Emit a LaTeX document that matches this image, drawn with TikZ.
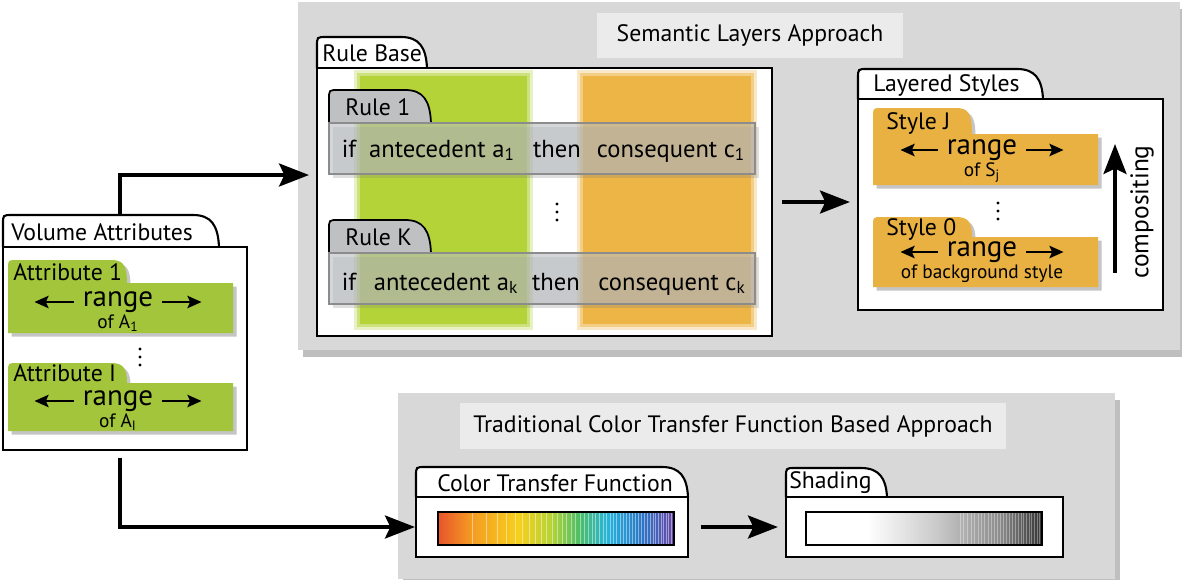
\documentclass[tikz,border=0pt]{standalone}
\usepackage{fontspec}
\setmainfont{PT Sans}
\usetikzlibrary{arrows.meta,shadows,fit,positioning}

\definecolor{panelgray}{HTML}{D8D8D8}
\definecolor{titlegray}{HTML}{EBEBEB}
\definecolor{colgreen}{HTML}{B3D339}
\definecolor{colorange}{HTML}{EDB546}
\definecolor{attrgreen}{HTML}{A2C53C}
\definecolor{styleorange}{HTML}{E9B042}
\definecolor{tabgray}{HTML}{BEC0C2}
\definecolor{rowgray}{HTML}{B8BCC0}
\definecolor{rbred}{HTML}{E8542C}
\definecolor{rborange}{HTML}{F49B22}
\definecolor{rbyellow}{HTML}{F7D01C}
\definecolor{rblime}{HTML}{B5D336}
\definecolor{rbgreen}{HTML}{4DBE6A}
\definecolor{rbcyan}{HTML}{27B4DC}
\definecolor{rbblue}{HTML}{2B78C6}
\definecolor{rbviolet}{HTML}{6A45A6}

\pgfdeclarehorizontalshading{rainbow}{100bp}{color(0bp)=(rbred); color(25bp)=(rbred);
  color(32bp)=(rborange); color(42bp)=(rbyellow); color(49bp)=(rblime); color(55bp)=(rbgreen);
  color(61bp)=(rbcyan); color(68bp)=(rbblue); color(75bp)=(rbviolet); color(100bp)=(rbviolet)}
\pgfdeclarehorizontalshading{grayramp}{100bp}{color(0bp)=(white); color(25bp)=(white);
  color(38bp)=(white); color(52bp)=(black!20); color(66bp)=(black!45); color(75bp)=(black!80);
  color(100bp)=(black!80)}

% folder tab: style, left x, top y, right x, base y
\newcommand\foldertab[5][]{%
  \draw[line width=1.2pt,#1] (#2,#5) -- (#2,#3+9) .. controls (#2,#3) .. (#2+9,#3)
    -- (#4-26,#3) .. controls (#4-8,#3) and (#4-1,#3+10) .. (#4,#5);}
% coloured bar with tab: colour, left x, tab top, tab right, bar top, bar right, bar bottom
\newcommand\tabbar[7]{%
  \fill[#1,drop shadow={opacity=.45,shadow xshift=2pt,shadow yshift=-2pt}]
    (#2,#7) -- (#2,#3+9) .. controls (#2,#3) .. (#2+9,#3) -- (#4-16,#3)
    .. controls (#4-4,#3) and (#4,#3+5) .. (#4,#5) -- (#6,#5) -- (#6,#7) -- cycle;}
% three vertical dots: x, top y
\newcommand\vdotsat[2]{\foreach \k in {0,1,2} \fill (#1,#2+8*\k) circle (1.7);}

\begin{document}
\begin{tikzpicture}[x=0.02cm,y=-0.02cm,
  every node/.style={inner sep=0pt},
  txt/.style={font=\fontsize{13.5}{15}\selectfont},
  rowtxt/.style={font=\fontsize{14}{16}\selectfont},
  rangetxt/.style={font=\fontsize{16.5}{18}\selectfont},
  oftxt/.style={font=\fontsize{11}{12}\selectfont},
  panel/.style={fill=panelgray,drop shadow={opacity=.5,shadow xshift=3pt,shadow yshift=-4pt}},
  titlebox/.style={fill=titlegray},
  framebox/.style={draw,line width=1.2pt,fill=white},
  rowbar/.style={fill=rowgray,fill opacity=.6,draw=black!45,line width=.8pt},
  flow/.style={line width=2.3pt,-{Stealth[length=17pt,width=13pt,inset=3pt]}},
  rangearrow/.style={line width=1.4pt,-{Stealth[length=8pt,width=7pt,inset=1.5pt]}}]
\useasboundingbox (0,0) rectangle (1182,579);

\node[panel,fit={(298,2) (1180,350)}] (sempanel) {};
\node[panel,fit={(398,393) (1115,579)}] (tradpanel) {};
\node[titlebox,fit={(597,13) (903,58)}] (semtitlebox) {};
\node[txt] (semtitle) at (semtitlebox) {Semantic Layers Approach};
\node[titlebox,fit={(460,403) (1006,449)}] (tradtitlebox) {};
\node[txt] (tradtitle) at (tradtitlebox) {Traditional Color Transfer Function Based Approach};

% volume attributes
\foldertab[fill=white]{3}{215}{219}{247}
\node[framebox,fit={(3,247) (247,450)}] (volattr) {};
\node[txt,anchor=west] (voltab) at (11,232) {Volume Attributes};
\tabbar{attrgreen}{8}{260}{127}{283}{233}{333}
\node[txt,anchor=west] (att1) at (13,272) {Attribute 1};
\node[rangetxt] (range1) at (118,302) {range};
\node[oftxt,below=1pt of range1] (of1) {of A\textsubscript{1}};
\draw[rangearrow,shorten <=5pt] (range1.west) -- ++(-48,0);
\draw[rangearrow,shorten <=5pt] (range1.east) -- ++(48,0);
\vdotsat{140}{349}
\tabbar{attrgreen}{8}{363}{127}{383}{233}{431}
\node[txt,anchor=west] (attI) at (13,373) {Attribute I};
\node[rangetxt] (rangeI) at (118,401) {range};
\node[oftxt,below=1pt of rangeI] (ofI) {of A\textsubscript{I}};
\draw[rangearrow,shorten <=5pt] (rangeI.west) -- ++(-48,0);
\draw[rangearrow,shorten <=5pt] (rangeI.east) -- ++(48,0);

% rule base
\foldertab[fill=white]{317}{37}{427}{68}
\node[framebox,fit={(317,68) (772,336)}] (rulebase) {};
\node[txt,anchor=west] (rbtab) at (322,53) {Rule Base};
\fill[colgreen,opacity=.3] (354,70) rectangle (533,330);
\fill[colgreen,opacity=.5] (357,73) rectangle (530,327);
\fill[colgreen] (360,76) rectangle (527,324);
\fill[colorange,opacity=.3] (577,70) rectangle (757,330);
\fill[colorange,opacity=.5] (580,73) rectangle (754,327);
\fill[colorange] (583,76) rectangle (751,324);
\foldertab[fill=tabgray,line width=1pt]{329}{90}{431}{123}
\node[rowbar,fit={(329,123) (755,174)},drop shadow={opacity=.25,shadow xshift=2pt,shadow yshift=-2pt}] (row1) {};
\node[txt,anchor=west] (rule1) at (345,107) {Rule 1};
\node[rowtxt,anchor=base] (if1) at (349,157) {if};
\node[rowtxt,anchor=base] (ante1) at (442,157) {antecedent a\textsubscript{1}};
\node[rowtxt,anchor=base] (then1) at (557,157) {then};
\node[rowtxt,anchor=base] (cons1) at (671,157) {consequent c\textsubscript{1}};
\vdotsat{557}{204}
\foldertab[fill=tabgray,line width=1pt]{329}{220}{431}{253}
\node[rowbar,fit={(329,253) (755,304)},drop shadow={opacity=.25,shadow xshift=2pt,shadow yshift=-2pt}] (rowK) {};
\node[txt,anchor=west] (ruleK) at (345,237) {Rule K};
\node[rowtxt,anchor=base] (ifK) at (349,290) {if};
\node[rowtxt,anchor=base] (anteK) at (446,290) {antecedent a\textsubscript{k}};
\node[rowtxt,anchor=base] (thenK) at (556,290) {then};
\node[rowtxt,anchor=base] (consK) at (672,290) {consequent c\textsubscript{k}};

% layered styles
\foldertab[fill=white]{858}{69}{1043}{99}
\node[framebox,fit={(858,99) (1163,310)}] (layered) {};
\node[txt,anchor=west] (lstab) at (873,85) {Layered Styles};
\tabbar{styleorange}{873}{108}{972}{134}{1098}{185}
\node[txt,anchor=west] (stylej) at (886,123) {Style J};
\node[rangetxt] (rangej) at (982,150) {range};
\node[oftxt,below=1pt of rangej] (ofj) {of S\textsubscript{j}};
\draw[rangearrow,shorten <=5pt] (rangej.west) -- ++(-46,0);
\draw[rangearrow,shorten <=5pt] (rangej.east) -- ++(46,0);
\vdotsat{998}{203}
\tabbar{styleorange}{873}{217}{972}{237}{1098}{287}
\node[txt,anchor=west] (style0) at (886,229) {Style 0};
\node[rangetxt] (range0) at (982,252) {range};
\node[oftxt,below=1pt of range0] (of0) {of background style};
\draw[rangearrow,shorten <=5pt] (range0.west) -- ++(-46,0);
\draw[rangearrow,shorten <=5pt] (range0.east) -- ++(46,0);
\coordinate (compbot) at (1115,273);
\coordinate (comptop) at (1115,144);
\draw[flow] (compbot) -- (comptop);
\node[txt,rotate=90,font=\fontsize{14.5}{16}\selectfont] (complabel) at (1142,212) {compositing};

% traditional approach
\foldertab[fill=white]{416}{467}{688}{497}
\node[framebox,fit={(416,497) (688,557)}] (ctf) {};
\node[txt] (ctftab) at (555,483) {Color Transfer Function};
\shade[shading=rainbow,draw,line width=1pt] (438,512) rectangle (674,545);
\foreach \i in {1,...,46} {
  \pgfmathsetmacro\sx{438+236*sqrt(\i/47)}
  \draw[white,opacity=.45,line width=.5pt] (\sx,513) -- (\sx,544);
}
\foldertab[fill=white]{786}{468}{887}{497}
\node[framebox,fit={(786,497) (1063,557)}] (shadebox) {};
\node[txt,anchor=west] (shadetab) at (789,483) {Shading};
\shade[shading=grayramp,draw,line width=1pt] (806,512) rectangle (1042,545);
\foreach \i in {20,...,46} {
  \pgfmathsetmacro\sx{806+236*sqrt(\i/47)}
  \draw[white,opacity=.35,line width=.5pt] (\sx,513) -- (\sx,544);
}

% connectors
\coordinate (vtop) at (120,215);
\coordinate (vbot) at (120,458);
\coordinate (rbin) at (309,175);
\draw[flow] (vtop) |- (rbin);
\draw[flow] (vbot) |- (ctf.west);
\draw[flow,shorten <=5pt,shorten >=4pt] (rulebase.east) -- (rulebase.east -| layered.west);
\draw[flow,shorten <=7pt,shorten >=4pt] (ctf.east) -- (shadebox.west);
\end{tikzpicture}
\end{document}
